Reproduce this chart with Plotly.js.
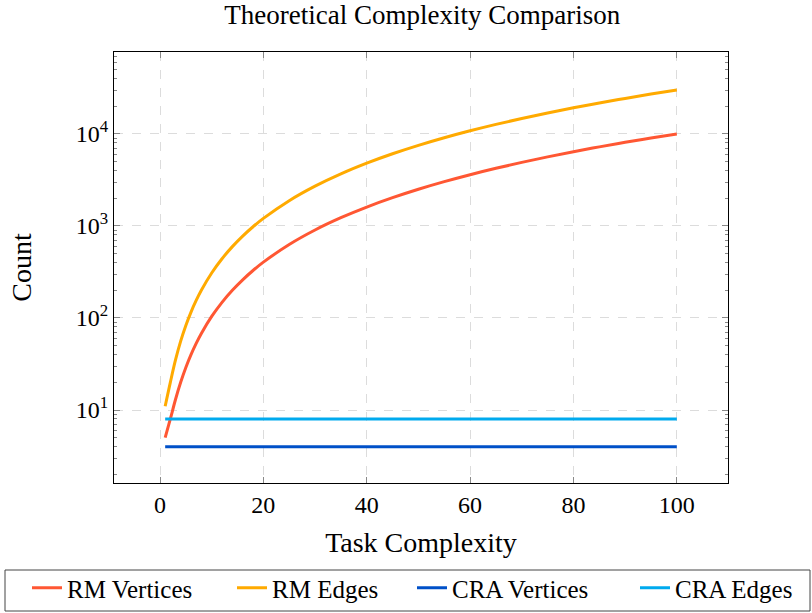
<!DOCTYPE html>
<html>
<head>
<meta charset="utf-8">
<script src="https://cdn.plot.ly/plotly-3.0.1.min.js"></script>
<style>html,body{margin:0;padding:0;background:#fff;}#chart{width:812px;height:613px;}</style>
</head>
<body>
<div id="chart"></div>
<script>
const taskX = [1,2,3,4,5,6,7,8,10,12,14,16,18,20,25,30,35,40,45,50,55,60,65,70,75,80,85,90,95,100];
const rmVertices = [5,8,13,20,29,40,53,68,104,148,200,260,328,404,629,904,1229,1604,2029,2504,3029,3604,4229,4904,5629,6404,7229,8104,9029,10004];
const rmEdges = [11,20,35,56,83,116,155,200,308,440,596,776,980,1208,1883,2708,3683,4808,6083,7508,9083,10808,12683,14708,16883,19208,21683,24308,27083,30008];
const craX = [1,100];
const craVertices = [4,4];
const craEdges = [8,8];
const yTickVals = [10,100,1000,10000];
const yTickText = ['10<sup>1</sup>','10<sup>2</sup>','10<sup>3</sup>','10<sup>4</sup>'];
const xTickVals = [0,20,40,60,80,100];
const seriesNames = ['RM Vertices','RM Edges','CRA Vertices','CRA Edges'];
const colors = ['#FF5733','#FFAA00','#0050C8','#00AAEE'];

const FONT = 'Liberation Serif';
const legendIds = ['legend','legend2','legend3','legend4'];
const legendLeftPx = [27, 232, 412, 635];

const traces = [
  {x: taskX, y: rmVertices, name: seriesNames[0], legend: legendIds[0], mode:'lines', line:{color:colors[0], width:3, shape:'spline'}},
  {x: taskX, y: rmEdges, name: seriesNames[1], legend: legendIds[1], mode:'lines', line:{color:colors[1], width:3, shape:'spline'}},
  {x: craX, y: craVertices, name: seriesNames[2], legend: legendIds[2], mode:'lines', line:{color:colors[2], width:3}},
  {x: craX, y: craEdges, name: seriesNames[3], legend: legendIds[3], mode:'lines', line:{color:colors[3], width:3}}
];
const W = 812, H = 613;
const layout = {
  width: W, height: H,
  margin: {l:114, r:84, t:52, b:130, autoexpand:false},
  paper_bgcolor:'#fff', plot_bgcolor:'#fff',
  font: {family: FONT, size: 24, color:'#000'},
  title: {text:'Theoretical Complexity Comparison', font:{family:FONT, size:27}, x:0.52, xanchor:'center', xref:'container', y:0.977, yanchor:'middle'},
  xaxis: {
    range:[-8.9,109.9], tickvals:xTickVals, ticks:'inside', ticklen:6, tickcolor:'#888',
    showline:true, linecolor:'#000', linewidth:1, mirror:'allticks',
    showgrid:true, gridcolor:'#dcdcdc', griddash:'dash', gridwidth:1, zeroline:false,
    title:{text:'Task Complexity', font:{family:FONT, size:28}, standoff:15},
    tickfont:{family:FONT, size:24}
  },
  yaxis: {
    type:'log', range:[0.207,4.89], tickvals:yTickVals, ticktext:yTickText,
    ticks:'inside', ticklen:6, tickcolor:'#888',
    showline:true, linecolor:'#000', linewidth:1, mirror:'allticks',
    showgrid:true, gridcolor:'#dcdcdc', griddash:'dash', gridwidth:1, zeroline:false,
    title:{text:'Count', font:{family:FONT, size:28}, standoff:36},
    tickfont:{family:FONT, size:24},
    minor:{ticks:'inside', ticklen:3, tickcolor:'#888', dtick:'D1', showgrid:false}
  },
  showlegend:true,
  shapes: [{
    type:'rect', xref:'paper', yref:'paper',
    x0:(5-114)/614, x1:(810-114)/614, y0:(483-611)/431, y1:(483-570)/431,
    line:{color:'#444', width:1}, fillcolor:'rgba(0,0,0,0)', layer:'above'
  }]
};
legendIds.forEach((id, i) => {
  layout[id] = {
    orientation:'h', xref:'container', yref:'container',
    x: legendLeftPx[i]/W, xanchor:'left', y: 1 - 565/H, yanchor:'top',
    borderwidth:0, bgcolor:'rgba(0,0,0,0)',
    font:{family:FONT, size:25}, itemwidth:30
  };
});
Plotly.newPlot('chart', traces, layout, {displayModeBar:false, staticPlot:true});
</script>
</body>
</html>
